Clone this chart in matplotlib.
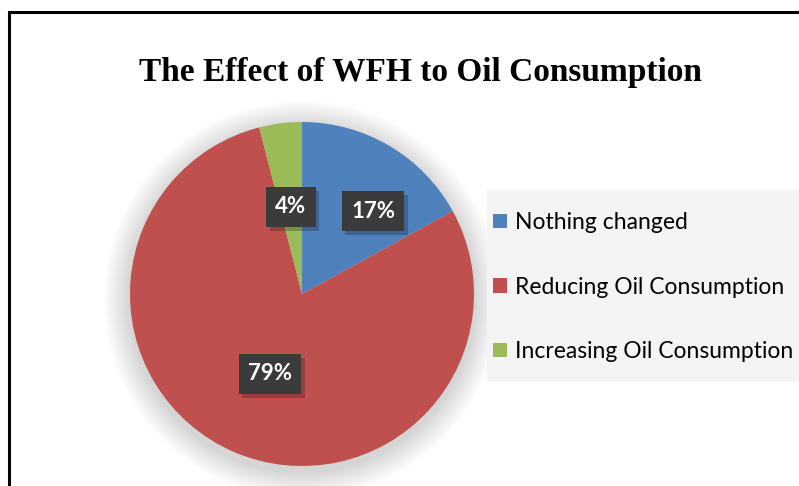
import numpy as np
import matplotlib
matplotlib.use("Agg")
import matplotlib.pyplot as plt
import matplotlib.patheffects as pe
from matplotlib.patches import Rectangle, Circle

# data
categories = ["Nothing changed", "Reducing Oil Consumption", "Increasing Oil Consumption"]
shares = [17, 79, 4]
colors = ["#4F81BD", "#C0504D", "#9BBB59"]
# label placement (fraction of radius, angle nudge in degrees)
label_dist = [0.635, 0.50, 0.51]
label_shift = [-10, 1.5, 0]

W, H = 799, 486
fig = plt.figure(figsize=(W / 100, H / 100), dpi=100)
fig.patch.set_facecolor("white")

# outer frame (cropped at right/bottom)
fig.patches.append(Rectangle((9 / W, -0.05), 1.0, 1 - 12 / H + 0.05,
                             transform=fig.transFigure, fill=False,
                             edgecolor="black", linewidth=2.2, zorder=0))

fig.text(420 / W, 1 - 72 / H, "The Effect of WFH to Oil Consumption",
         fontsize=24, fontweight="bold", family="Liberation Serif",
         ha="center", va="center")

# pie axes: center (302, 294) px, radius 172 px
cx, cy, r = 302, 294, 172
ax = fig.add_axes([(cx - r) / W, (H - cy - r) / H, 2 * r / W, 2 * r / H])

# soft shadow behind pie
for k in range(14):
    ax.add_patch(Circle((0.0, -0.03), 1.0 + 0.011 * (14 - k), color="black",
                        alpha=0.01, lw=0, zorder=0, clip_on=False))

wedges, _ = ax.pie(shares, colors=colors, startangle=90, counterclock=False,
                   radius=1.0, wedgeprops=dict(linewidth=0))
ax.set_xlim(-1, 1)
ax.set_ylim(-1, 1)
ax.set_aspect("equal")
ax.axis("off")

for w, val, d, s in zip(wedges, shares, label_dist, label_shift):
    ang = np.deg2rad((w.theta1 + w.theta2) / 2 + s)
    x, y = d * np.cos(ang), d * np.sin(ang)
    t = ax.text(x, y, f"{val}%", fontsize=16, fontweight="bold", family="Lato",
                color="white", ha="center", va="center",
                bbox=dict(boxstyle="square,pad=0.42", facecolor="#3b3b3b",
                          edgecolor="none"), zorder=5)
    t.get_bbox_patch().set_path_effects(
        [pe.SimplePatchShadow(offset=(2.5, -3), shadow_rgbFace="black", alpha=0.22),
         pe.Normal()])

# legend background panel
fig.patches.append(Rectangle((487 / W, 1 - 382 / H), (W - 487) / W, 192 / H,
                             transform=fig.transFigure, facecolor="#f4f4f4",
                             edgecolor="none", zorder=0))

leg = fig.legend(wedges, categories, loc="upper left",
                 bbox_to_anchor=(493 / W, 1 - 212 / H),
                 frameon=False,
                 prop=dict(family="Lato", size=16.5),
                 handlelength=0.6, handleheight=0.6, handletextpad=0.35,
                 labelspacing=1.9, borderpad=0, borderaxespad=0)

fig.savefig("out.png", dpi=100)
